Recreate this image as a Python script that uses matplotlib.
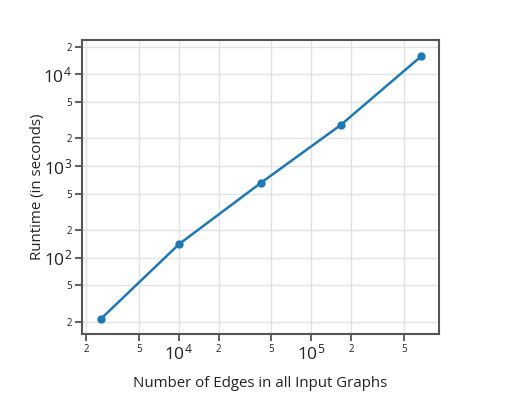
import matplotlib
matplotlib.use("Agg")
import matplotlib.pyplot as plt
from matplotlib.ticker import FixedLocator, FixedFormatter

plt.rcParams['font.family'] = ['Open Sans', 'DejaVu Sans']
plt.rcParams['mathtext.fontset'] = 'custom'
plt.rcParams['mathtext.rm'] = 'Open Sans'

# values
num_edges = [2590, 10090, 41600, 167000, 678000]
runtime = [21.5, 141, 653, 2800, 15800]

x_major = [1e4, 1e5]
x_major_labels = [r'$\mathregular{10^{4}}$', r'$\mathregular{10^{5}}$']
x_minor = [2e3, 5e3, 2e4, 5e4, 2e5, 5e5]
x_minor_labels = ['2', '5', '2', '5', '2', '5']

y_major = [1e2, 1e3, 1e4]
y_major_labels = [r'$\mathregular{10^{2}}$', r'$\mathregular{10^{3}}$', r'$\mathregular{10^{4}}$']
y_minor = [20, 50, 200, 500, 2e3, 5e3, 2e4]
y_minor_labels = ['2', '5', '2', '5', '2', '5', '2']

fig = plt.figure(figsize=(5.21, 4.17), dpi=100)
ax = fig.add_axes([0.157, 0.199, 0.686, 0.705])

ax.plot(num_edges, runtime, color='#1f77b4', linewidth=1.8,
        marker='o', markersize=5, zorder=3)

ax.set_xscale('log')
ax.set_yscale('log')
ax.set_xlim(1858, 925000)
ax.set_ylim(14.7, 23700)

ax.xaxis.set_major_locator(FixedLocator(x_major))
ax.xaxis.set_major_formatter(FixedFormatter(x_major_labels))
ax.xaxis.set_minor_locator(FixedLocator(x_minor))
ax.xaxis.set_minor_formatter(FixedFormatter(x_minor_labels))
ax.yaxis.set_major_locator(FixedLocator(y_major))
ax.yaxis.set_major_formatter(FixedFormatter(y_major_labels))
ax.yaxis.set_minor_locator(FixedLocator(y_minor))
ax.yaxis.set_minor_formatter(FixedFormatter(y_minor_labels))

ax.tick_params(which='major', labelsize=12.5, length=5, width=1.2,
               color='#444444', labelcolor='#222222', pad=2)
ax.tick_params(which='minor', labelsize=7, length=5, width=1.2,
               color='#444444', labelcolor='#222222', pad=2)

ax.grid(True, which='both', color='#e2e2e2', linewidth=1)
ax.set_axisbelow(True)
for s in ax.spines.values():
    s.set_color('#555555')
    s.set_linewidth(1.5)

ax.set_xlabel('Number of Edges in all Input Graphs', fontsize=10.8,
              color='#222222', va='center')
ax.set_ylabel('Runtime (in seconds)', fontsize=10.8, color='#222222',
              va='center')
ax.xaxis.set_label_coords(0.5, -0.167)
ax.yaxis.set_label_coords(-0.125, 0.5)

fig.savefig('out.png', dpi=100)
